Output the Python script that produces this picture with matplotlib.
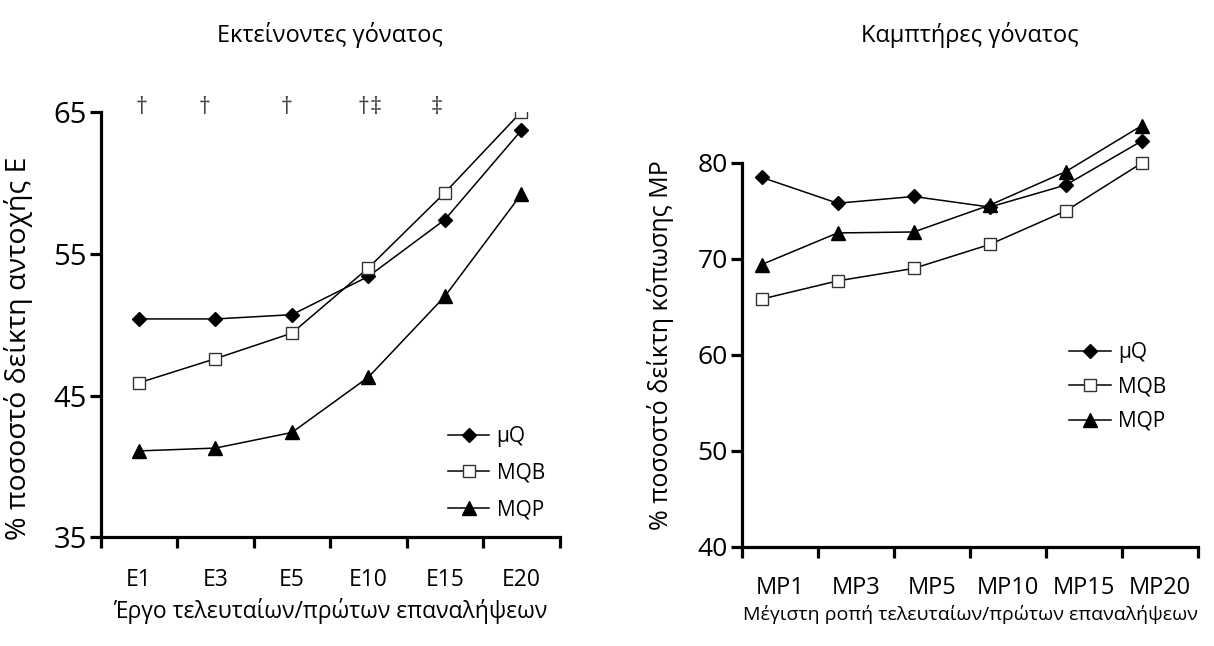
import matplotlib.pyplot as plt
import numpy as np

plt.rcParams['font.family'] = ['Open Sans', 'DejaVu Sans']

################################################################
# data
ext_labels = ['E1', 'E3', 'E5', 'E10', 'E15', 'E20']
ext_muQ = [50.4, 50.4, 50.7, 53.4, 57.4, 63.7]
ext_MQB = [45.9, 47.6, 49.4, 54.0, 59.3, 65.0]
ext_MQP = [41.1, 41.3, 42.4, 46.3, 52.0, 59.2]
# significance marks: (category position, symbol)
ext_marks = [(0.03, '†'), (0.86, '†'), (1.93, '†'), (2.93, '†'), (3.10, '‡'), (3.89, '‡')]

flx_labels = ['MP1', 'MP3', 'MP5', 'MP10', 'MP15', 'MP20']
flx_muQ = [78.5, 75.8, 76.5, 75.4, 77.7, 82.3]
flx_MQB = [65.8, 67.7, 69.0, 71.5, 75.0, 80.0]
flx_MQP = [69.4, 72.7, 72.8, 75.6, 79.1, 83.9]
################################################################

line_c = 'black'
line_w = 1.1
spine_w = 2.3


def style_axes(ax, xmin, xmax, pad):
	for s in ['top', 'right']:
		ax.spines[s].set_visible(False)
	ax.spines['left'].set_linewidth(spine_w)
	ax.spines['bottom'].set_linewidth(spine_w)
	ax.set_xlim(xmin, xmax)
	# tick marks between categories, labels without marks
	ax.set_xticks(np.arange(xmin, xmax + 0.01, 1.0), minor=True)
	ax.tick_params(axis='x', which='minor', direction='out', length=8, width=spine_w)
	ax.tick_params(axis='x', which='major', length=0, pad=pad, labelsize=16.5)
	ax.tick_params(axis='y', direction='out', length=8, width=spine_w, pad=2)


def draw_series(ax, x, a, b, c):
	ax.plot(x, a, color=line_c, lw=line_w, marker='D', ms=6.8, mfc='black', mec='black', label='μQ')
	ax.plot(x, b, color=line_c, lw=line_w, marker='s', ms=8.5, mfc='white', mec='#333333', mew=1.0, label='MQB')
	ax.plot(x, c, color=line_c, lw=line_w, marker='^', ms=10.5, mfc='black', mec='black', label='MQP')


fig = plt.figure(figsize=(12.14, 6.46), dpi=100)

# left chart
ax1 = fig.add_axes([0.083, 0.168, 0.378, 0.659])
x1 = np.arange(len(ext_labels))
draw_series(ax1, x1, ext_muQ, ext_MQB, ext_MQP)
style_axes(ax1, -0.5, 5.5, 22)
ax1.set_ylim(35, 65)
ax1.set_yticks([35, 45, 55, 65])
ax1.tick_params(axis='y', labelsize=21)
ax1.set_xticks(x1)
ax1.set_xticklabels(ext_labels)
for xm, sym in ext_marks:
	ax1.text(xm, 65.25, sym, ha='center', va='center', fontsize=17, color='#444444')
ax1.legend(loc='center left', bbox_to_anchor=(0.756, 0.151), frameon=False, fontsize=15,
	handlelength=2.0, handletextpad=0.35, labelspacing=0.75, borderpad=0, borderaxespad=0)

# right chart
ax2 = fig.add_axes([0.611, 0.154, 0.376, 0.668])
x2 = np.arange(len(flx_labels)) + 0.26
draw_series(ax2, x2, flx_muQ, flx_MQB, flx_MQP)
style_axes(ax2, 0, 6, 21)
ax2.set_ylim(40, 85)
ax2.spines['left'].set_bounds(40, 80)
ax2.set_yticks([40, 50, 60, 70, 80])
ax2.tick_params(axis='y', labelsize=19)
ax2.set_xticks(np.arange(len(flx_labels)) + 0.5)
ax2.set_xticklabels(flx_labels)
ax2.tick_params(axis='x', which='major', labelsize=17)
ax2.legend(loc='center left', bbox_to_anchor=(0.718, 0.37), frameon=False, fontsize=15,
	handlelength=2.0, handletextpad=0.35, labelspacing=0.65, borderpad=0, borderaxespad=0)

# titles and axis labels
fig.text(0.272, 1 - 35 / 646, 'Εκτείνοντες γόνατος', ha='center', va='center', fontsize=17)
fig.text(0.799, 1 - 35 / 646, 'Καμπτήρες γόνατος', ha='center', va='center', fontsize=17)
fig.text(19 / 1214, 1 - 348 / 646, '% ποσοστό δείκτη αντοχής E', rotation=90,
	ha='center', va='center', fontsize=20.5)
fig.text(661 / 1214, 1 - 345 / 646, '% ποσοστό δείκτη κόπωσης MP', rotation=90,
	ha='center', va='center', fontsize=18)
fig.text(0.272, 1 - 611 / 646, 'Έργο τελευταίων/πρώτων επαναλήψεων', ha='center', va='center', fontsize=16.5)
fig.text(0.799, 1 - 614 / 646, 'Μέγιστη ροπή τελευταίων/πρώτων επαναλήψεων', ha='center', va='center', fontsize=14)

fig.savefig('out.png', dpi=100)
